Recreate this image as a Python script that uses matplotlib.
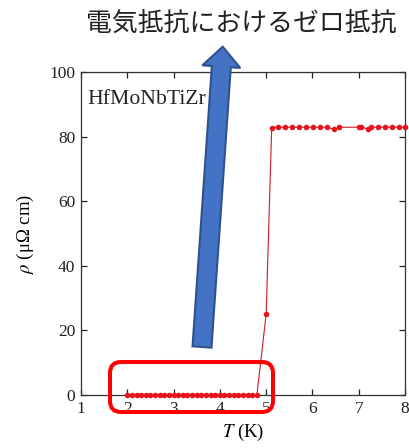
import numpy as np
import matplotlib
matplotlib.use('Agg')
import matplotlib.pyplot as plt
from matplotlib.patches import FancyArrow, FancyBboxPatch
from matplotlib.transforms import IdentityTransform

plt.rcParams['font.family'] = ['Liberation Serif', 'DejaVu Serif']
plt.rcParams['mathtext.fontset'] = 'stix'

# superconducting state (zero resistance)
T_low = [2.0, 2.1, 2.2, 2.3, 2.4, 2.5, 2.6, 2.7, 2.8, 2.9,
         3.0, 3.1, 3.2, 3.3, 3.4, 3.5, 3.6, 3.7, 3.8, 3.9,
         4.0, 4.1, 4.2, 4.3, 4.4, 4.5, 4.6, 4.7, 4.8]
rho_low = [0.0] * len(T_low)

# transition
T_mid = [5.0]
rho_mid = [25.0]

# normal state
T_high = [5.12, 5.26, 5.41, 5.56, 5.71, 5.86, 6.01, 6.16, 6.31, 6.47,
          6.58, 7.00, 7.05, 7.19, 7.27, 7.41, 7.56, 7.71, 7.86, 8.00]
rho_high = [82.8, 82.9, 82.9, 82.9, 82.9, 82.9, 82.9, 82.9, 82.9, 82.3,
            82.9, 82.9, 82.9, 82.4, 82.9, 82.9, 82.9, 82.9, 82.9, 82.9]

T = T_low + T_mid + T_high
rho = rho_low + rho_mid + rho_high

fig = plt.figure(figsize=(4.1, 4.48), dpi=100)
ax = fig.add_axes([0.1976, 0.1183, 0.7902, 0.721])

ax.plot(T, rho, '-', color='#c81e28', lw=0.8, zorder=2)
ax.plot(T, rho, 'o', color='#e8141c', ms=4, mec='none', clip_on=False, zorder=3)

ax.set_xlim(1, 8)
ax.set_ylim(0, 100)
ax.set_xticks(range(1, 9))
ax.set_yticks(range(0, 101, 20))
ax.tick_params(direction='in', top=True, right=True, length=4.3, width=0.9,
               labelsize=12.5, pad=4, colors='#222222')
for s in ax.spines.values():
    s.set_linewidth(0.9)
    s.set_color('#333333')

ax.set_xlabel(r'$T$ (K)', fontsize=13.5, labelpad=4)
ax.set_ylabel(r'$\rho$ (μΩ cm)', fontsize=13.5, labelpad=10)
ax.text(0.02, 0.915, 'HfMoNbTiZr', transform=ax.transAxes, fontsize=15.6,
        va='center', ha='left', color='#222222')

fig.text(241 / 410, 1 - 23 / 448, '電気抵抗におけるゼロ抵抗', ha='center', va='center',
         fontsize=18.6, family=['Noto Sans CJK JP', 'DejaVu Sans'], color='#222222')

H = 448
arrow = FancyArrow(202, H - 347, 20.7, 300.3, width=19, head_width=38,
                   head_length=20, length_includes_head=True,
                   transform=IdentityTransform(), facecolor='#4472c4',
                   edgecolor='#2f528f', lw=1.5, zorder=10)
fig.patches.append(arrow)

box = FancyBboxPatch((110, H - 412), 163, 50,
                     boxstyle='round,pad=0,rounding_size=11',
                     transform=IdentityTransform(), facecolor='none',
                     edgecolor='#ff0000', lw=2.9, zorder=11)
fig.patches.append(box)

fig.savefig('out.png', dpi=100)
